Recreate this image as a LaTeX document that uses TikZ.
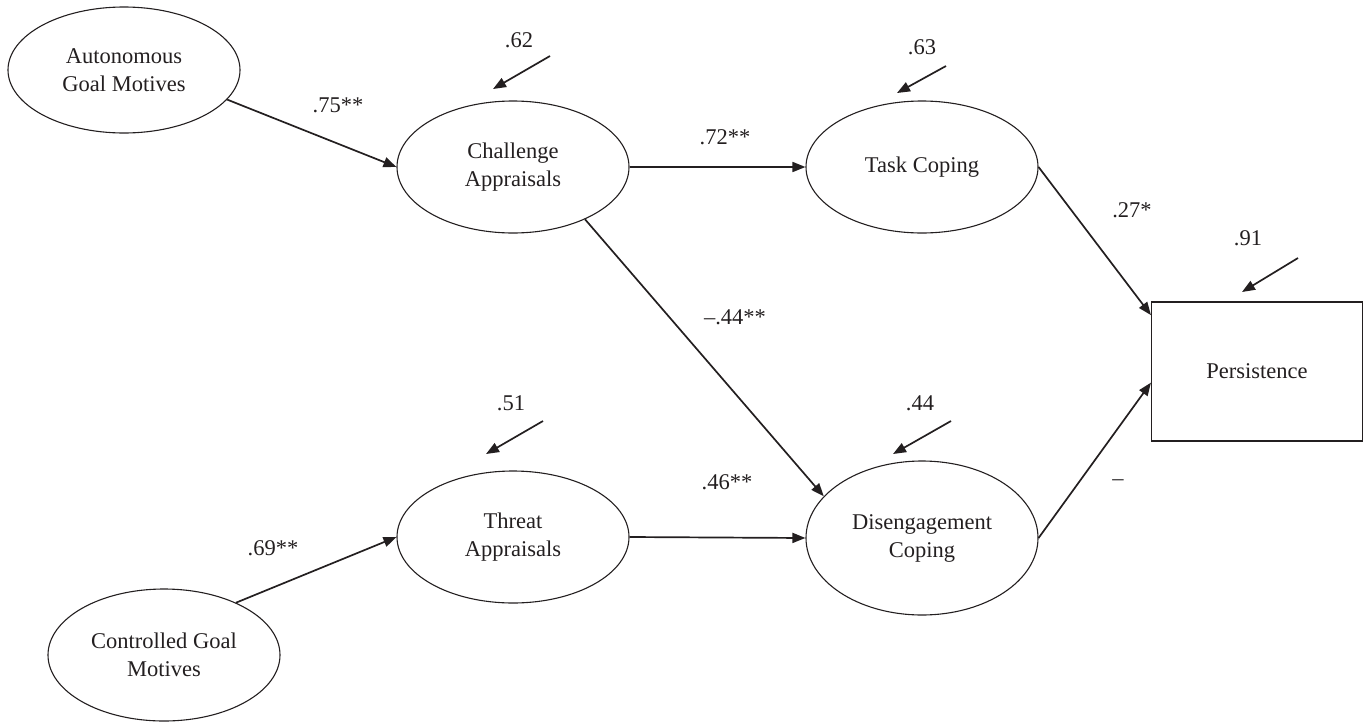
\documentclass[tikz,border=0pt]{standalone}
\usepackage{fontspec}
\setmainfont{Liberation Serif}
\usetikzlibrary{arrows.meta,shapes.geometric,calc}
\definecolor{ink}{HTML}{231F20}
\begin{document}
\begin{tikzpicture}[x=1pt,y=-1pt,
  lat/.style={ellipse,draw=ink,line width=1.1pt,minimum width=232pt,minimum height=132pt,inner sep=0pt,align=center,text=ink,font=\fontsize{22.5}{28}\selectfont},
  obs/.style={rectangle,draw=ink,line width=1.1pt,minimum width=211pt,minimum height=139pt,inner sep=0pt,text=ink,font=\fontsize{22.5}{28}\selectfont},
  lbl/.style={text=ink,font=\fontsize{22.5}{26}\selectfont,inner sep=0pt},
  arr/.style={draw=ink,line width=1.7pt,-{Triangle[length=13pt,width=10pt]}}]
\useasboundingbox (0,0) rectangle (1370,723);

% latent / observed variables
\node[lat,minimum height=126pt] (auto) at (124,70) {Autonomous\\Goal Motives};
\node[lat] (ctrl) at (164,655) {Controlled Goal\\Motives};
\node[lat] (chal) at (513,167) {Challenge\\Appraisals};
\node[lat] (thr)  at (513,537) {Threat\\Appraisals};
\node[lat] (task) at (922,167) {Task Coping};
\node[lat,minimum height=154pt] (dis) at (922,538) {Disengagement\\Coping};
\node[obs] (pers) at (1257,371.5) {Persistence};

% paths
\draw[arr] (auto.-16) -- (chal.west);
\draw[arr] (ctrl.36) -- (thr.west);
\draw[arr] (chal.east) -- (task.west);
\draw[arr] (chal.-36.6) -- (dis.157.7);
\draw[arr] (thr.east) -- (dis.west);
\draw[arr] (task.east) -- (pers.152.6);
\draw[arr] (dis.east) -- (pers.186.8);

% path coefficients
\node[lbl] (l75) at (338,105) {.75**};
\node[lbl] (l69) at (273,548) {.69**};
\node[lbl] (l72) at (725,137) {.72**};
\node[lbl] (l44n) at (735,317) {–.44**};
\node[lbl] (l46) at (727,482) {.46**};
\node[lbl] (l27) at (1132,210) {.27*};
\node[lbl] (lneg) at (1118,483) {–};

% residuals
\node[lbl] (r62) at (519,40) {.62};
\coordinate (r62s) at (550,56);
\coordinate (r62e) at (493,89);
\draw[arr] (r62s) -- (r62e);

\node[lbl] (r63) at (922,47) {.63};
\coordinate (r63s) at (946,66);
\coordinate (r63e) at (897,93);
\draw[arr] (r63s) -- (r63e);

\node[lbl] (r51) at (511,403) {.51};
\coordinate (r51s) at (543,421);
\coordinate (r51e) at (486,454);
\draw[arr] (r51s) -- (r51e);

\node[lbl] (r44) at (920,403) {.44};
\coordinate (r44s) at (951,421);
\coordinate (r44e) at (893,454);
\draw[arr] (r44s) -- (r44e);

\node[lbl] (r91) at (1248,238) {.91};
\coordinate (r91s) at (1298,258);
\coordinate (r91e) at (1242,292);
\draw[arr] (r91s) -- (r91e);
\end{tikzpicture}
\end{document}
